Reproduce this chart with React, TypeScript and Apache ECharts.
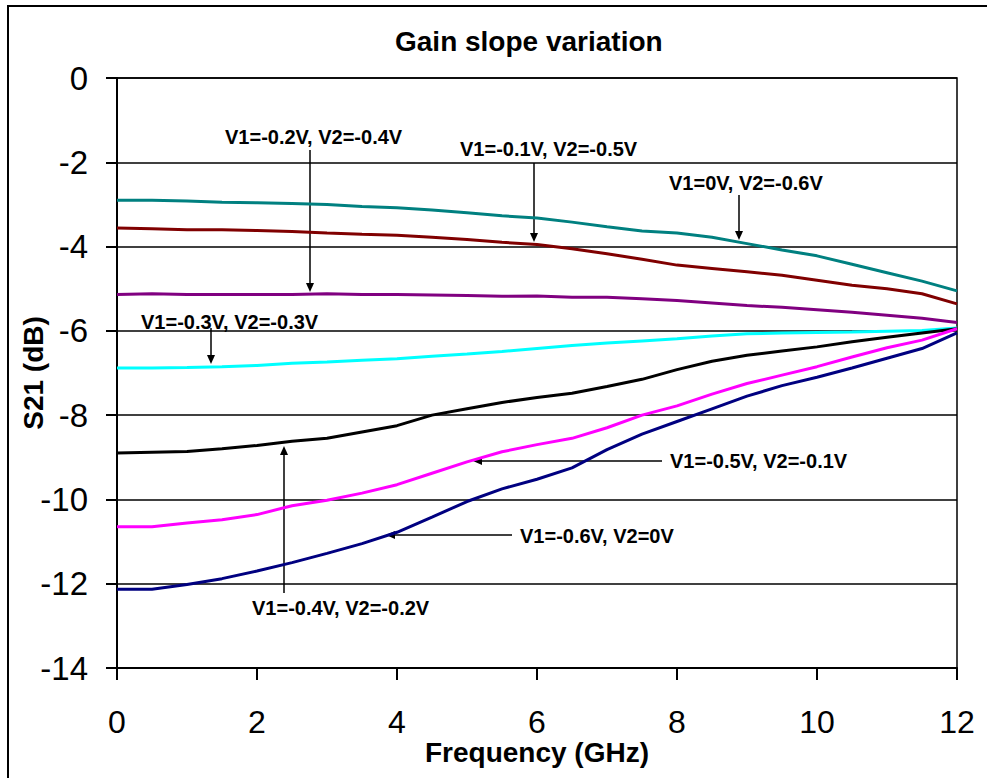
import React, { useEffect, useRef } from "react";
import * as echarts from "echarts";

const freqGHz = [0, 0.5, 1, 1.5, 2, 2.5, 3, 3.5, 4, 4.5, 5, 5.5, 6, 6.5, 7, 7.5, 8, 8.5, 9, 9.5, 10, 10.5, 11, 11.5, 12];

const s21_V1_0_V2_m06 = [-2.9, -2.9, -2.92, -2.95, -2.96, -2.98, -3.0, -3.05, -3.08, -3.13, -3.2, -3.27, -3.32, -3.42, -3.53, -3.63, -3.68, -3.78, -3.93, -4.08, -4.22, -4.42, -4.62, -4.82, -5.05];
const s21_V1_m01_V2_m05 = [-3.56, -3.58, -3.6, -3.6, -3.62, -3.64, -3.68, -3.71, -3.73, -3.78, -3.83, -3.9, -3.95, -4.05, -4.17, -4.3, -4.44, -4.52, -4.6, -4.68, -4.8, -4.92, -5.0, -5.12, -5.36];
const s21_V1_m02_V2_m04 = [-5.14, -5.12, -5.14, -5.14, -5.14, -5.14, -5.12, -5.14, -5.14, -5.15, -5.16, -5.18, -5.17, -5.2, -5.2, -5.24, -5.28, -5.34, -5.4, -5.44, -5.5, -5.56, -5.63, -5.7, -5.8];
const s21_V1_m03_V2_m03 = [-6.88, -6.88, -6.87, -6.85, -6.82, -6.77, -6.74, -6.7, -6.66, -6.6, -6.55, -6.49, -6.42, -6.35, -6.29, -6.24, -6.19, -6.12, -6.07, -6.05, -6.04, -6.03, -6.01, -5.99, -5.93];
const s21_V1_m04_V2_m02 = [-8.9, -8.88, -8.86, -8.8, -8.72, -8.62, -8.55, -8.4, -8.25, -8.0, -7.85, -7.7, -7.58, -7.48, -7.32, -7.15, -6.92, -6.72, -6.58, -6.48, -6.38, -6.26, -6.15, -6.05, -5.95];
const s21_V1_m05_V2_m01 = [-10.65, -10.65, -10.56, -10.48, -10.36, -10.15, -10.02, -9.85, -9.65, -9.38, -9.11, -8.87, -8.7, -8.55, -8.3, -8.0, -7.78, -7.5, -7.25, -7.05, -6.85, -6.62, -6.4, -6.22, -5.95];
const s21_V1_m06_V2_0 = [-12.13, -12.13, -12.02, -11.88, -11.7, -11.5, -11.28, -11.05, -10.78, -10.42, -10.05, -9.75, -9.52, -9.25, -8.82, -8.45, -8.15, -7.85, -7.55, -7.3, -7.1, -6.88, -6.65, -6.42, -6.05];

const seriesNames = [
  "V1=0V, V2=-0.6V",
  "V1=-0.1V, V2=-0.5V",
  "V1=-0.2V, V2=-0.4V",
  "V1=-0.3V, V2=-0.3V",
  "V1=-0.4V, V2=-0.2V",
  "V1=-0.5V, V2=-0.1V",
  "V1=-0.6V, V2=0V",
];
const seriesValues = [
  s21_V1_0_V2_m06,
  s21_V1_m01_V2_m05,
  s21_V1_m02_V2_m04,
  s21_V1_m03_V2_m03,
  s21_V1_m04_V2_m02,
  s21_V1_m05_V2_m01,
  s21_V1_m06_V2_0,
];
const seriesColors = ["#008080", "#800000", "#800080", "#00FFFF", "#000000", "#FF00FF", "#000080"];

const yTicks = [0, -2, -4, -6, -8, -10, -12, -14];
const xTicks = [0, 2, 4, 6, 8, 10, 12];

const FONT = '"Liberation Sans", Arial, Helvetica, sans-serif';

function arrow(x1: number, y1: number, x2: number, y2: number) {
  const dx = x2 - x1;
  const dy = y2 - y1;
  const len = Math.hypot(dx, dy);
  const ux = dx / len;
  const uy = dy / len;
  const hl = 9;
  const hw = 4;
  const bx = x2 - ux * hl;
  const by = y2 - uy * hl;
  return [
    { type: "line", silent: true, shape: { x1, y1, x2: bx, y2: by }, style: { stroke: "#000", lineWidth: 1.5 } },
    {
      type: "polygon",
      silent: true,
      shape: { points: [[x2, y2], [bx - uy * hw, by + ux * hw], [bx + uy * hw, by - ux * hw]] },
      style: { fill: "#000" },
    },
  ];
}

function label(text: string, x: number, y: number) {
  return {
    type: "text",
    silent: true,
    x,
    y,
    style: {
      text,
      fill: "#000",
      font: `bold 20px ${FONT}`,
      align: "left",
      verticalAlign: "middle",
      textAlign: "left",
      textVerticalAlign: "middle",
    },
  };
}

export default function App() {
  const ref = useRef<HTMLDivElement>(null);
  useEffect(() => {
    if (!ref.current) return;
    const chart = echarts.init(ref.current, null, { renderer: "svg" });
    chart.setOption({
      animation: false,
      backgroundColor: "#ffffff",
      title: {
        text: "Gain slope variation",
        left: 395,
        top: 27,
        padding: 0,
        textStyle: { fontFamily: FONT, fontWeight: "bold", fontSize: 28, color: "#000" },
      },
      grid: {
        left: 117,
        right: 30,
        top: 78,
        bottom: 110,
        outerBoundsMode: "none",
        containLabel: false,
        show: true,
        borderColor: "#000",
        borderWidth: 1.5,
        backgroundColor: "transparent",
      },
      xAxis: {
        type: "value",
        min: 0,
        max: 12,
        interval: 2,
        name: "Frequency (GHz)",
        nameLocation: "middle",
        nameGap: 72,
        nameMoveOverlap: false,
        nameTextStyle: { fontFamily: FONT, fontWeight: "bold", fontSize: 28, lineHeight: 24, color: "#000" },
        axisLine: { show: true, onZero: false, lineStyle: { color: "#000", width: 2 } },
        axisTick: { show: true, inside: false, length: 12, lineStyle: { color: "#000", width: 2 } },
        axisLabel: {
          margin: 41,
          fontFamily: FONT,
          fontSize: 32,
          lineHeight: 26,
          color: "#000",
          formatter: (v: number) => (xTicks.includes(v) ? String(v) : ""),
        },
        splitLine: { show: false },
      },
      yAxis: {
        type: "value",
        min: -14,
        max: 0,
        interval: 2,
        name: "S21 (dB)",
        nameLocation: "middle",
        nameGap: 70,
        nameMoveOverlap: false,
        nameTextStyle: { fontFamily: FONT, fontWeight: "bold", fontSize: 28, color: "#000" },
        axisLine: { show: true, onZero: false, lineStyle: { color: "#000", width: 2 } },
        axisTick: { show: true, inside: false, length: 11, lineStyle: { color: "#000", width: 2 } },
        axisLabel: {
          margin: 29,
          fontFamily: FONT,
          fontSize: 33,
          color: "#000",
          formatter: (v: number) => (yTicks.includes(v) ? String(v) : ""),
        },
        splitLine: { show: true, lineStyle: { color: "#000", width: 1.5 } },
      },
      series: seriesValues.map((vals, i) => ({
        name: seriesNames[i],
        type: "line",
        showSymbol: false,
        symbol: "none",
        data: freqGHz.map((f, j) => [f, vals[j]]),
        lineStyle: { color: seriesColors[i], width: 3 },
        itemStyle: { color: seriesColors[i] },
        z: 3,
      })),
      graphic: [
        {
          type: "rect",
          silent: true,
          shape: { x: 8, y: 6, width: 1000, height: 1000 },
          style: { fill: "none", stroke: "#000", lineWidth: 2 },
        },
        label("V1=-0.2V, V2=-0.4V", 225, 137),
        ...arrow(310, 150, 310, 292),
        label("V1=-0.1V, V2=-0.5V", 460, 149),
        ...arrow(534, 163, 534, 242),
        label("V1=0V, V2=-0.6V", 669, 183),
        ...arrow(739, 195, 739, 240),
        label("V1=-0.3V, V2=-0.3V", 141, 322),
        ...arrow(211, 328, 211, 364),
        label("V1=-0.4V, V2=-0.2V", 252, 608),
        ...arrow(284, 593, 284, 446),
        label("V1=-0.5V, V2=-0.1V", 670, 461),
        ...arrow(662, 461, 473, 461),
        label("V1=-0.6V, V2=0V", 520, 536),
        ...arrow(512, 535, 386, 535),
      ],
    });
    return () => chart.dispose();
  }, []);
  return (
    <div
      ref={ref}
      style={{ position: "fixed", left: 0, top: 0, width: 987, height: 778, background: "#fff" }}
    />
  );
}
